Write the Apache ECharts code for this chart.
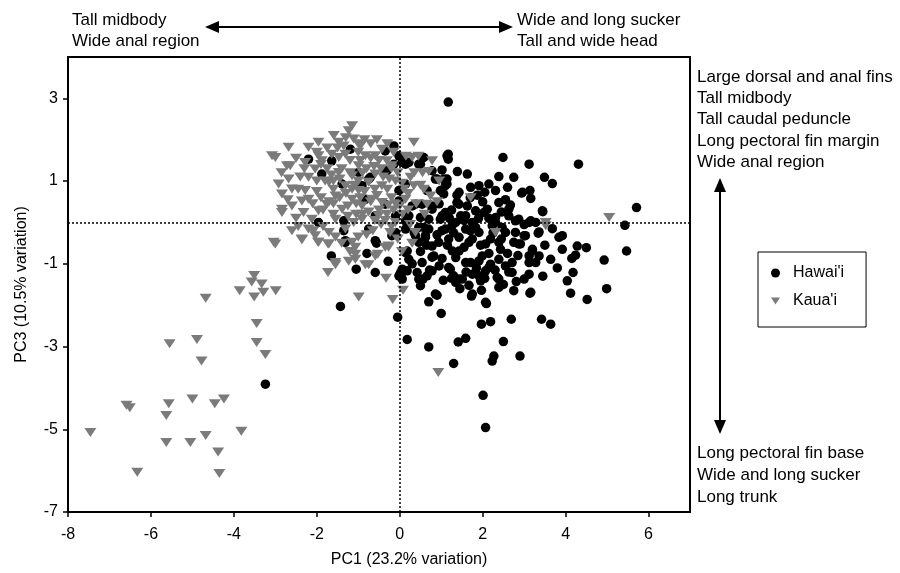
<!DOCTYPE html>
<html>
<head>
<meta charset="utf-8">
<script src="https://cdn.jsdelivr.net/npm/echarts@6/dist/echarts.min.js"></script>
<style>html,body{margin:0;padding:0;background:#fff}#c{width:900px;height:573px}</style>
</head>
<body>
<div id="c"></div>
<script>
const xTicks = [-8, -6, -4, -2, 0, 2, 4, 6];
const yTicks = [-7, -5, -3, -1, 1, 3];
const seriesNames = ["Hawai'i", "Kaua'i"];
const xAxisName = 'PC1 (23.2% variation)';
const yAxisName = 'PC3 (10.5% variation)';
const topLeftText = ['Tall midbody', 'Wide anal region'];
const topRightText = ['Wide and long sucker', 'Tall and wide head'];
const rightUpperText = ['Large dorsal and anal fins', 'Tall midbody', 'Tall caudal peduncle', 'Long pectoral fin margin', 'Wide anal region'];
const rightLowerText = ['Long pectoral fin base', 'Wide and long sucker', 'Long trunk'];

const hawaii = [
[1.17,2.91],[4.31,1.41],[5.71,0.36],[5.43,-0.07],[2.49,1.57],[3.12,1.41],[2.75,1.09],[2.39,1.11],[3.49,1.09],[3.68,0.94],
[1.17,1.65],[1.17,1.53],[0.58,1.57],[1.39,1.23],[1.63,1.17],[1.02,1.27],[2.94,0.71],[3.14,0.77],[3.16,0.58],[3.44,0.28],
[3.16,0.04],[3.68,-0.15],[3.92,-0.32],[3.0,-0.32],[3.34,-0.26],[2.15,0.93],[1.91,0.89],[1.71,0.85],[2.05,0.73],[1.87,0.66],
[1.38,0.66],[1.1,0.89],[0.9,1.05],[1.14,1.05],[2.39,0.48],[2.67,0.42],[1.83,0.28],[2.03,0.24],[1.43,0.44],[1.02,0.16],
[1.59,0.16],[2.31,0.12],[2.63,0.16],[2.79,0.04],[2.23,-0.08],[1.79,-0.08],[1.26,-0.08],[0.58,-0.12],[0.1,1.53],[0.3,0.4],
[0.5,0.12],[0.78,0.4],[0.14,0.04],
[3.45,0.26],[5.47,-0.69],[3.84,-0.36],[3.92,-0.65],[4.28,-0.57],[4.5,-0.61],[3.64,-0.89],[4.15,-0.87],[4.24,-0.79],[4.93,-0.91],
[4.18,-1.21],[4.04,-1.41],[4.12,-1.71],[4.52,-1.86],[4.99,-1.6],[3.42,-2.34],[3.64,-2.46],[3.36,-0.23],[3.36,-0.81],
[-1.43,-2.03],[-0.05,-2.29],[0.18,-2.83],[0.7,-3.01],[1.3,-3.41],[1.41,-2.89],[1.59,-2.8],[2.01,-4.18],[2.07,-4.96],[2.23,-3.35],
[2.27,-3.23],[2.5,-2.88],[2.9,-3.23],[1.97,-2.46],[2.19,-2.4],[2.69,-2.34],[1.0,-2.2],[0.7,-1.92],[0.9,-1.76],[1.73,-1.78],
[2.09,-1.96],[3.14,-1.71],[3.12,-1.25],[2.81,-1.43],[2.39,-1.57],[1.97,-1.64],[1.67,-1.52],[1.35,-1.45],[0.5,-1.53],[0.56,-1.37],
[0.72,-1.15],[0.42,-1.21],[0.06,-1.13],[0.04,-1.33],[0.18,-1.17],[-0.59,-1.21],[-1.05,-1.13],[-1.65,-0.81],[-0.28,-0.94],[-0.79,-0.75],
[-0.56,-0.5],[-1.31,-0.48],[-0.02,-1.29],[0.18,-0.69],[0.46,-0.48],[0.5,-0.7],[0.78,-0.84],[1.02,-0.87],[1.27,-0.69],[1.22,-1.13],
[1.43,-1.37],[1.75,-1.25],[1.95,-1.41],[2.07,-1.17],[2.39,-1.37],[2.63,-1.2],[2.19,-1.01],[1.91,-0.93],[1.59,-0.97],[2.71,-0.97],
[3.12,-0.97],[3.2,-0.69],[2.79,-0.24],[2.39,-0.48],[2.07,-0.52],[1.75,-0.4],[1.43,-0.36],[1.1,-0.16],[1.35,0.0],[1.83,-0.12],
[2.47,-0.12],[3.12,0.0],[0.94,-0.48],[2.87,-0.52],
[0.14,-0.73],[0.22,-0.89],[0.54,-0.97],[0.78,-0.57],[0.82,-0.81],[0.98,0.08],[1.1,0.24],[1.02,-0.2],[1.18,-0.4],[1.38,0.48],
[1.47,0.16],[1.59,-0.16],[1.67,-0.48],[1.75,0.0],[1.91,-0.24],[1.99,-0.81],[2.11,0.32],[2.19,-0.4],[2.31,0.0],[2.43,-0.65],
[2.55,-0.24],[2.63,0.32],[2.75,-0.48],[2.87,0.08],[3.03,-0.32],[3.12,-0.81],[3.2,-0.65],[3.28,0.0],[2.96,0.73],[1.43,0.73],
[1.06,0.69],[1.63,0.4],[0.7,0.08],[0.46,-0.12],[0.38,0.44],[0.62,-0.32],[0.78,-1.17],[0.66,-1.29],[0.46,-1.37],[1.18,-1.09],
[1.3,-1.29],[1.51,-1.37],[1.71,-0.97],[1.91,-1.29],[2.15,-1.09],[2.35,-1.33],[2.55,-1.05],[2.71,-1.21],[3.0,-1.37],[3.16,-1.69],
[0.86,-1.73],[1.75,-1.73],[2.07,-1.93],[1.43,-0.69],[2.39,-0.89],[3.28,-0.97],[2.91,-0.52],[2.31,0.77],[2.6,0.85],[0.02,-1.21],
[0.06,-1.37],
[-0.14,1.85],[-0.35,1.73],[-2.2,1.53],[-1.19,1.77],[-1.88,1.17],[-1.64,1.49],[-0.02,1.61],[0.06,1.45],[0.14,1.41],[-0.14,1.41],
[0.54,1.57],[0.5,1.41],[1.14,1.61],[0.78,1.25],[0.86,1.05],[1.06,1.05],[0.98,0.77],[1.14,0.93],[0.66,0.77],[0.54,0.44],
[0.78,0.32],[-0.59,0.16],[-0.1,0.16],[-0.75,1.05],[-0.91,0.89],[-0.35,1.21],[-1.96,0.0],[-1.35,0.04],[-1.31,-0.44],[-0.59,-0.44],
[-0.19,-0.32],[0.14,-0.16],[0.62,-0.36],[-0.99,1.21],[-1.39,0.93],[-0.83,0.56],[-0.02,0.77],[-0.35,0.44],[-0.31,1.25],[-0.71,1.09],
[0.14,0.93],[-0.02,0.52],[0.22,0.16],[-1.35,-0.2],[-0.75,-0.16],[-0.1,-0.24],[0.7,-0.16],[0.38,-0.32],[0.22,1.45],[0.46,1.41],
[-3.24,-3.91],
[0.9,-0.3],[1.15,-0.55],[1.35,-0.85],[1.55,-0.6],[1.7,-0.2],[1.95,-0.55],[2.15,-0.75],[2.25,-0.25],[2.45,-0.4],[2.6,-0.75],
[2.85,-0.8],[1.3,-0.25],[1.55,0.05],[1.9,0.1],[2.15,0.1],[2.45,0.25],[2.0,0.5],[1.7,0.6],[1.25,0.3],[0.95,0.45],
[0.65,-0.55],[0.95,-1.05],[1.25,-1.35],[1.6,-1.2],[1.85,-1.1],[2.05,-1.35],[2.3,-1.15],[2.5,-1.5],[2.75,-1.65],[1.45,-1.6],
[1.05,-1.4],[0.3,-1.0],[0.35,-0.25],[3.5,-0.55],[3.8,-1.1],[3.45,-1.3],[3.0,-0.05],[2.55,0.55],[1.2,0.1]
];

const kauai = [
[-1.15,2.34],[-1.23,2.22],[-1.59,2.1],[-1.47,1.94],[-1.11,2.02],[-0.95,1.85],[-1.96,1.94],[-2.2,1.82],[-2.68,1.82],[-3.0,1.57],
[-2.64,1.37],[-2.92,0.93],[-2.68,1.05],[-2.28,1.45],[-1.96,1.61],[-1.88,1.49],[-1.64,1.65],[-1.47,1.57],[-1.31,1.65],[-0.83,1.61],
[-0.59,1.61],[-0.43,1.77],[-0.31,1.49],[-0.19,1.37],[-2.04,1.29],[-2.2,1.09],[-2.28,0.77],[-2.2,0.56],[-2.6,0.4],[-2.84,0.32],
[-2.32,0.24],[-1.96,0.28],[-2.12,0.08],[-1.76,0.44],[-1.55,0.64],[-1.31,0.89],[-1.15,1.13],[-0.99,1.37],[-1.47,1.21],[-1.71,0.97],
[-1.39,0.32],[-1.15,0.56],[-0.99,0.77],[-0.91,0.4],[-0.75,0.97],[-0.67,0.56],[-0.59,1.17],[-0.43,0.89],[-0.43,0.48],[-0.31,0.2],
[-0.51,0.16],[-0.91,0.08],[-1.11,0.0],[-1.31,-0.16],[-1.55,0.08],[-1.71,-0.24],[-2.04,-0.32],[-2.2,-0.16],[-2.36,-0.4],[-3.0,-0.52],
[-1.96,-0.48],[-1.71,-0.52],[-1.55,-0.97],[-1.07,-0.89],[-0.83,-1.02],[-0.59,-0.81],[-0.27,-0.57],[-0.1,0.0],[-0.23,-0.24],[-1.15,-0.48],
[-2.6,0.81],[-2.84,0.69],[-2.36,0.52],
[0.93,-3.63],[0.08,-1.64],[-0.17,-1.86],[-0.99,-1.8],[-1.73,-1.21],[-0.33,-1.35],[-0.75,-1.02],[-1.23,-0.94],[-1.55,-1.02],[-0.53,-0.77],
[-1.07,-0.77],[-1.73,-0.52],[-1.97,-0.48],[-2.36,-0.42],[-2.08,-0.2],[-0.27,-0.6],[-1.07,-0.6],
[0.34,1.94],[0.3,1.57],[0.78,1.49],[0.7,1.23],[0.26,1.09],[0.34,0.89],[0.58,0.8],[0.74,0.64],[0.14,0.56],[1.71,0.6],
[0.66,0.44],[0.06,0.2],[0.38,-0.24],[2.31,-0.24],[3.52,-0.08],[5.05,0.12],[3.52,0.0],
[-3.08,1.61],[-2.72,1.37],[-2.84,0.24],[-3.04,-0.48],
[-1.8,1.0],[-1.6,0.8],[-1.4,1.3],[-1.2,1.5],[-1.0,1.0],[-0.8,1.3],[-0.6,0.8],[-0.4,1.1],[-0.2,0.6],[-1.7,0.5],
[-1.3,0.7],[-1.1,0.9],[-0.9,0.2],[-0.7,0.5],[-0.5,0.3],[-0.3,0.8],[-0.1,1.0],[0.1,0.8],[0.2,0.3],[-1.5,1.8],
[-1.0,1.7],[-0.7,1.9],[-0.5,1.5],[-0.2,1.3],[0.0,0.4],[-1.9,0.6],[-2.0,1.0],[-1.25,0.15],[-0.45,-0.05],[-0.05,-0.4],
[0.25,-0.05],[-1.6,0.2],[-2.4,1.1],[-2.5,0.1],[-0.95,1.5],[-0.15,1.7],[0.35,1.2],[0.5,0.9],[0.6,0.2],[0.9,0.5],
[0.95,1.0],[-1.45,1.05],[-0.62,1.35],[-0.85,0.75],[-1.05,0.45],[-0.28,0.42],[-1.75,1.3],[-2.1,0.45],[-1.55,-0.35],[-0.8,-0.3],
[-0.35,-0.6],[0.05,-0.7],[0.3,-0.5],[-1.2,-0.7],[-2.6,-0.2],
[-2.0,1.7],[-1.75,1.8],[-1.35,1.85],[-0.85,2.0],[-0.55,2.0],[-1.9,1.4],[-1.65,1.15],[-1.2,1.2],[-0.9,1.2],[-0.7,1.55],
[-0.45,1.3],[-0.25,1.05],[-0.05,1.2],[0.05,0.95],[-2.3,1.3],[-2.45,0.8],[-2.0,0.75],[-1.85,0.3],[-1.6,0.45],[-1.45,0.6],
[-1.25,0.4],[-0.95,0.6],[-0.75,0.25],[-0.6,0.05],[-0.35,0.05],[-0.15,0.3],[-0.2,-0.1],[-0.65,-0.2],[-1.0,-0.35],[-1.4,-0.5],
[-1.85,-0.1],[-2.45,-0.1],[-2.7,0.55],[-2.5,1.55],[-2.85,1.2],[-1.3,2.05],[-1.0,1.9],[-0.3,1.9],[0.15,1.6],[0.45,1.6],
[0.55,1.2],[0.2,0.7],[0.4,0.45],[-0.1,0.45],[-0.55,0.65],[-1.15,0.8],[-1.6,1.0],[-1.05,0.2],
[-3.51,-1.28],[-3.57,-1.44],[-3.33,-1.49],[-3.29,-1.69],[-3.86,-1.65],[-3.51,-1.8],[-2.99,-1.65],[-4.68,-1.83],[-3.45,-2.44],[-4.89,-2.83],
[-5.55,-2.93],[-3.45,-2.9],[-3.24,-3.19],[-4.78,-3.35],[-6.59,-4.42],[-6.51,-4.48],[-5.57,-4.38],[-5.0,-4.27],[-4.46,-4.38],[-4.24,-4.27],
[-5.63,-4.67],[-7.46,-5.08],[-5.63,-5.32],[-5.05,-5.32],[-4.68,-5.15],[-3.82,-5.05],[-4.38,-5.55],[-6.33,-6.04],[-4.35,-6.07]
];

const FONT = 'Liberation Sans, Arial, sans-serif';
const triPath = 'path://M0,0 L10,0 L5,8 Z';
const chart = echarts.init(document.getElementById('c'), null, {renderer: 'canvas'});

function textEl(str, x, y, size, align) {
  return {type: 'text', x: x, y: y, silent: true,
    style: {text: str, x: 0, y: 0, fill: '#000', font: size + 'px ' + FONT, textVerticalAlign: 'middle', textAlign: align || 'left'}};
}
const graphics = [];
topLeftText.forEach((t, i) => graphics.push(textEl(t, 72, 20 + i * 21, 17)));
topRightText.forEach((t, i) => graphics.push(textEl(t, 517, 20 + i * 21, 17)));
rightUpperText.forEach((t, i) => graphics.push(textEl(t, 697, 77 + i * 21.3, 17)));
rightLowerText.forEach((t, i) => graphics.push(textEl(t, 697, 453 + i * 22, 17)));
graphics.push(textEl(xAxisName, 409, 560, 16, 'center'));
// arrows
graphics.push({type: 'line', silent: true, shape: {x1: 214, y1: 27, x2: 504, y2: 27}, style: {stroke: '#000', lineWidth: 2}});
graphics.push({type: 'polygon', silent: true, shape: {points: [[205, 27], [219, 21], [219, 33]]}, style: {fill: '#000'}});
graphics.push({type: 'polygon', silent: true, shape: {points: [[513, 27], [499, 21], [499, 33]]}, style: {fill: '#000'}});
graphics.push({type: 'line', silent: true, shape: {x1: 720, y1: 186, x2: 720, y2: 426}, style: {stroke: '#000', lineWidth: 2}});
graphics.push({type: 'polygon', silent: true, shape: {points: [[720, 178], [714, 192], [726, 192]]}, style: {fill: '#000'}});
graphics.push({type: 'polygon', silent: true, shape: {points: [[720, 434], [714, 420], [726, 420]]}, style: {fill: '#000'}});

const option = {
  animation: false,
  backgroundColor: '#fff',
  textStyle: {fontFamily: FONT},
  grid: {left: 68, right: 210, top: 57, bottom: 61, show: true, borderColor: '#000', borderWidth: 2, backgroundColor: 'transparent'},
  xAxis: {
    type: 'value', min: -8, max: 7,
    axisLine: {show: true, onZero: false, lineStyle: {color: '#000', width: 2}},
    axisTick: {show: true, inside: false, length: 5, lineStyle: {color: '#000', width: 1.5}, customValues: xTicks},
    axisLabel: {color: '#000', fontSize: 16, fontFamily: FONT, margin: 15, customValues: xTicks},
    splitLine: {show: false}
  },
  yAxis: {
    type: 'value', min: -7, max: 4,
    name: yAxisName, nameLocation: 'middle', nameGap: 38, nameRotate: 90,
    nameTextStyle: {color: '#000', fontSize: 16, fontFamily: FONT},
    axisLine: {show: true, onZero: false, lineStyle: {color: '#000', width: 2}},
    axisTick: {show: true, inside: false, length: 5, lineStyle: {color: '#000', width: 1.5}, customValues: yTicks},
    axisLabel: {color: '#000', fontSize: 16, fontFamily: FONT, margin: 10, customValues: yTicks},
    splitLine: {show: false}
  },
  legend: {
    orient: 'vertical', left: 758, top: 252,
    padding: [13, 22, 18, 13], itemGap: 12, itemWidth: 9, itemHeight: 9,
    borderColor: '#000', borderWidth: 1, backgroundColor: '#fff',
    textStyle: {color: '#000', fontSize: 16, fontFamily: FONT, padding: [0, 0, 0, 8]},
    data: [
      {name: seriesNames[0], icon: 'circle'},
      {name: seriesNames[1], icon: triPath}
    ]
  },
  graphic: graphics,
  series: [
    {
      type: 'scatter', name: 'refLines', data: [], silent: true, z: 1,
      markLine: {
        silent: true, symbol: ['none', 'none'], label: {show: false},
        lineStyle: {color: '#000', type: [2, 2], width: 1.5},
        data: [{xAxis: 0}, {yAxis: 0}]
      }
    },
    {
      type: 'scatter', name: seriesNames[0], data: hawaii, z: 2,
      symbol: 'circle', symbolSize: 9.5,
      itemStyle: {color: '#000', opacity: 1}
    },
    {
      type: 'scatter', name: seriesNames[1], data: kauai, z: 3,
      symbol: triPath, symbolSize: [12, 9],
      itemStyle: {color: '#7b7b7b', opacity: 1}
    }
  ]
};
chart.setOption(option);
</script>
</body>
</html>
